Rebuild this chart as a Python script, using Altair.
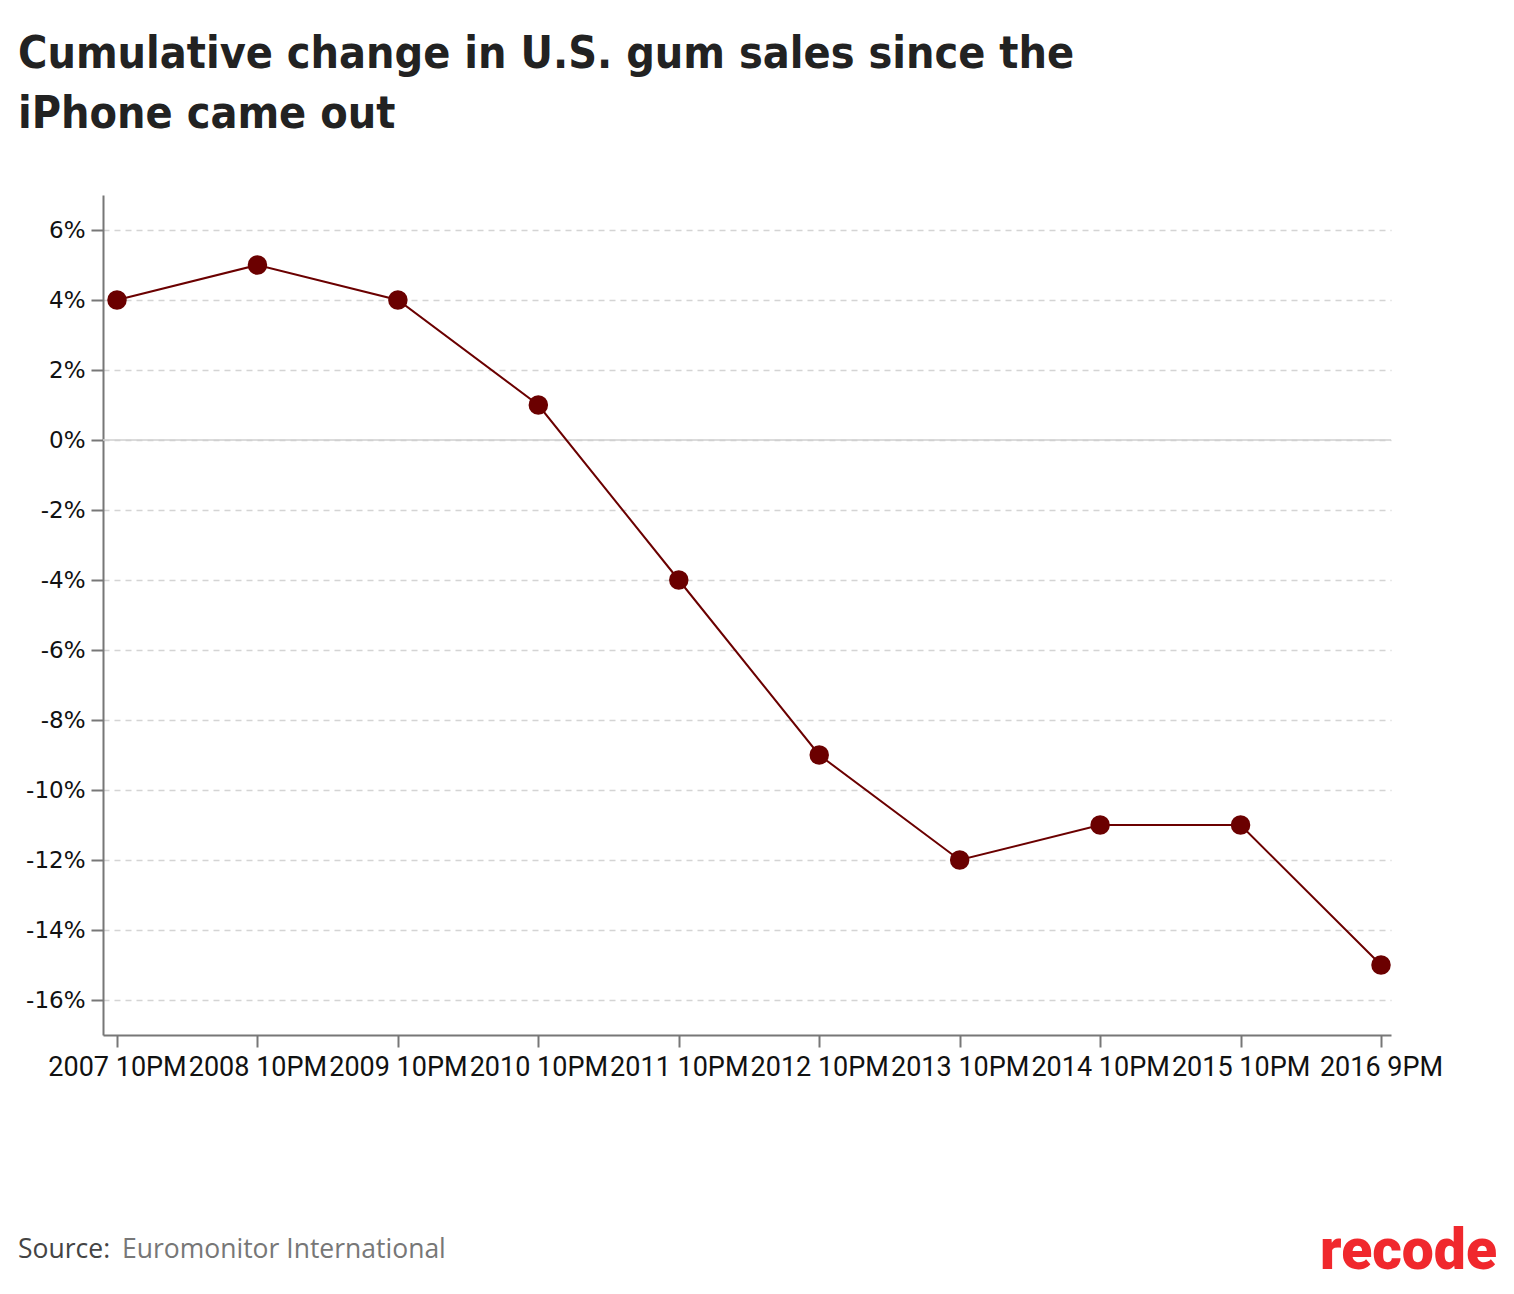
import altair as alt
import pandas as pd

years = [2007, 2008, 2009, 2010, 2011, 2012, 2013, 2014, 2015, 2016]
change_pct = [4, 5, 4, 1, -4, -9, -12, -11, -11, -15]
tick_labels = ["2007 10PM", "2008 10PM", "2009 10PM", "2010 10PM", "2011 10PM",
               "2012 10PM", "2013 10PM", "2014 10PM", "2015 10PM", "2016 9PM"]
y_ticks = [-16, -14, -12, -10, -8, -6, -4, -2, 0, 2, 4, 6]
title_lines = ["Cumulative change in U.S. gum sales since the", "iPhone came out"]

df = pd.DataFrame({"year": years, "change": change_pct})

W, H = 1288, 840
LINE_COLOR = "#6b0000"
label_arr = "[" + ",".join("'" + t + "'" for t in tick_labels) + "]"

x_enc = alt.X(
    "year:Q",
    scale=alt.Scale(domain=[2006.9003, 2016.0712], nice=False, zero=False),
    axis=alt.Axis(
        values=years, title=None, grid=False,
        labelExpr=f"{label_arr}[datum.value - 2007]",
        labelFont="Roboto", labelFontSize=27, labelColor="#111",
        labelPadding=7, tickSize=12, tickWidth=2, tickColor="#777",
        domainColor="#777", domainWidth=2, labelFlush=False, labelOverlap=False,
    ),
)
y_enc = alt.Y(
    "change:Q",
    scale=alt.Scale(domain=[-17, 7], nice=False),
    axis=alt.Axis(
        values=y_ticks, title=None, labelExpr="datum.value + '%'",
        labelFont="DejaVu Sans", labelFontSize=23, labelColor="#111",
        labelPadding=6, tickSize=12, tickWidth=2, tickColor="#777",
        domainColor="#777", domainWidth=2,
        grid=True, gridDash=[6, 5], gridColor="#d4d4d4", gridWidth=1.5,
    ),
)

base = alt.Chart(df)
line = base.mark_line(color=LINE_COLOR, strokeWidth=2).encode(x=x_enc, y=y_enc)
points = base.mark_circle(color=LINE_COLOR, size=380, opacity=1).encode(x="year:Q", y="change:Q")

zero_rule = alt.Chart(pd.DataFrame({"z": [0]})).mark_rule(color="#cfcfcf", strokeWidth=1.5).encode(
    y="z:Q", x=alt.value(0), x2=alt.value(W)
)

one = alt.Data(values=[{"a": 1}])
TITLE_FONT = "'Liberation Sans Narrow', 'DejaVu Sans Condensed', 'Roboto', sans-serif"
t1 = alt.Chart(one).mark_text(
    text=title_lines[0], font=TITLE_FONT, fontSize=44.5, fontWeight="bold", color="#222",
    align="left", baseline="alphabetic",
).encode(x=alt.value(-85), y=alt.value(-127))
t2 = alt.Chart(one).mark_text(
    text=title_lines[1], font=TITLE_FONT, fontSize=44.5, fontWeight="bold", color="#222",
    align="left", baseline="alphabetic",
).encode(x=alt.value(-85), y=alt.value(-67))

src1 = alt.Chart(one).mark_text(
    text="Source:", font="Open Sans", fontSize=26.5, color="#444", align="left", baseline="alphabetic",
).encode(x=alt.value(-85), y=alt.value(1063))
src2 = alt.Chart(one).mark_text(
    text="Euromonitor International", font="Open Sans", fontSize=26.5, color="#777",
    align="left", baseline="alphabetic",
).encode(x=alt.value(19), y=alt.value(1063))
logo = alt.Chart(one).mark_text(
    text="recode", font="Roboto", fontSize=57, fontWeight=900, color="#f0282d",
    align="right", baseline="alphabetic",
).encode(x=alt.value(1394), y=alt.value(1074))

chart = alt.layer(zero_rule, line, points, t1, t2, src1, src2, logo).properties(
    width=W, height=H,
    autosize=alt.AutoSizeParams(type="none"),
    padding={"left": 95, "top": 187, "right": 115, "bottom": 251},
).configure(background="white").configure_view(stroke=None)

chart.save("out.html", embed_options={"renderer": "svg", "actions": False})
